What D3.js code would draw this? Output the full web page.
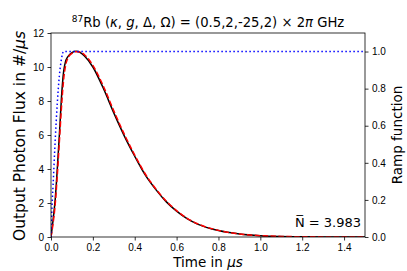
<!DOCTYPE html>
<html>
<head>
<meta charset="utf-8">
<script src="https://cdn.jsdelivr.net/npm/d3@7"></script>
<style>
  body { margin: 0; background: #fff; }
  svg { font-family: "DejaVu Sans", sans-serif; }
  .axis path, .axis line { stroke: #000; stroke-width: 0.8; }
  .axis text { font-size: 10px; fill: #000; }
</style>
</head>
<body>
<div id="chart"></div>
<script>
// time grid (us)
var times = [0, 0.01, 0.02, 0.03, 0.04, 0.05, 0.06, 0.07, 0.08, 0.1, 0.12, 0.14, 0.16, 0.2, 0.25, 0.3,
             0.35, 0.4, 0.45, 0.5, 0.55, 0.6, 0.65, 0.7, 0.8, 0.9, 1.0, 1.1, 1.2, 1.3, 1.4, 1.5];
// simulated output flux (black)
var fluxSim = [0, 1.0, 2.2, 4.0, 6.0, 8.2, 9.7, 10.35, 10.6, 10.85, 10.92, 10.85, 10.65, 10.0, 8.75, 7.3,
               5.95, 4.75, 3.65, 2.8, 2.08, 1.52, 1.08, 0.76, 0.38, 0.18, 0.08, 0.035, 0.015, 0.006, 0.003, 0.001];
// analytic flux (red dashed)
var fluxModel = [0, 0.8, 1.9, 3.6, 5.6, 7.6, 9.2, 10.1, 10.5, 10.8, 10.9, 10.88, 10.72, 10.1, 8.88, 7.42,
                 6.05, 4.82, 3.72, 2.84, 2.12, 1.55, 1.1, 0.78, 0.39, 0.18, 0.08, 0.035, 0.015, 0.006, 0.003, 0.001];
// ramp function (blue dotted)
var rampTimes = [0, 0.005, 0.01, 0.02, 0.03, 0.04, 0.05, 0.06, 1.5];
var rampValues = [0, 0.17, 0.28, 0.52, 0.72, 0.87, 0.96, 1.0, 1.0];

var xTicks = [0, 0.2, 0.4, 0.6, 0.8, 1.0, 1.2, 1.4];
var yTicks = [0, 2, 4, 6, 8, 10, 12];
var rTicks = [0, 0.2, 0.4, 0.6, 0.8, 1.0];

// set the dimensions and margins of the graph
var W = 407, H = 271;
var margin = {top: 33, right: 42, bottom: 34, left: 51},
    width = W - margin.left - margin.right,
    height = H - margin.top - margin.bottom;

var x = d3.scaleLinear().domain([0, 1.5]).range([0, width]);
var y = d3.scaleLinear().domain([0, 12]).range([height, 0]);
var yr = d3.scaleLinear().domain([0, 1.1]).range([height, 0]);

var svg = d3.select("#chart").append("svg")
    .attr("width", W)
    .attr("height", H);

var g = svg.append("g")
    .attr("transform", "translate(" + margin.left + "," + margin.top + ")");

g.append("clipPath").attr("id", "clip")
  .append("rect").attr("width", width).attr("height", height);

var plot = g.append("g").attr("clip-path", "url(#clip)");

var simData = times.map(function(t, i) { return {t: t, v: fluxSim[i]}; });
var modelData = times.map(function(t, i) { return {t: t, v: fluxModel[i]}; });
var rampData = rampTimes.map(function(t, i) { return {t: t, v: rampValues[i]}; });

var fluxLine = d3.line()
    .x(function(d) { return x(d.t); })
    .y(function(d) { return y(d.v); })
    .curve(d3.curveMonotoneX);

var rampLine = d3.line()
    .x(function(d) { return x(d.t); })
    .y(function(d) { return yr(d.v); })
    .curve(d3.curveMonotoneX);

plot.append("path")
    .datum(simData)
    .attr("fill", "none")
    .attr("stroke", "#000")
    .attr("stroke-width", 1.5)
    .attr("d", fluxLine);

plot.append("path")
    .datum(modelData)
    .attr("fill", "none")
    .attr("stroke", "#ff0000")
    .attr("stroke-width", 1.5)
    .attr("stroke-dasharray", "5.5,2.4")
    .attr("d", fluxLine);

plot.append("path")
    .datum(rampData)
    .attr("fill", "none")
    .attr("stroke", "#0000ff")
    .attr("stroke-width", 1.5)
    .attr("stroke-dasharray", "1.5,2.5")
    .attr("d", rampLine);

// Axes
g.append("g")
    .attr("class", "axis")
    .attr("transform", "translate(0," + height + ")")
    .call(d3.axisBottom(x).tickValues(xTicks).tickFormat(d3.format(".1f")).tickSize(3.5).tickPadding(3.5));

g.append("g")
    .attr("class", "axis")
    .call(d3.axisLeft(y).tickValues(yTicks).tickFormat(d3.format("d")).tickSize(3.5).tickPadding(3.5));

g.append("g")
    .attr("class", "axis")
    .attr("transform", "translate(" + width + ",0)")
    .call(d3.axisRight(yr).tickValues(rTicks).tickFormat(d3.format(".1f")).tickSize(3.5).tickPadding(3.5));

g.selectAll(".axis .domain").remove();

// frame
g.append("rect")
    .attr("width", width)
    .attr("height", height)
    .attr("fill", "none")
    .attr("stroke", "#000")
    .attr("stroke-width", 0.8);

// Title
var title = svg.append("text")
    .attr("x", margin.left + width / 2)
    .attr("y", 27)
    .attr("text-anchor", "middle")
    .style("font-size", "13.2px");
title.append("tspan").attr("dy", "-5").style("font-size", "9px").text("87");
title.append("tspan").attr("dy", "5").text("Rb (");
title.append("tspan").style("font-style", "italic").text("κ");
title.append("tspan").text(", ");
title.append("tspan").style("font-style", "italic").text("g");
title.append("tspan").text(", Δ, Ω) = (0.5,2,-25,2) × 2");
title.append("tspan").style("font-style", "italic").text("π");
title.append("tspan").text(" GHz");

// x label
var xl = svg.append("text")
    .attr("x", margin.left + width / 2)
    .attr("y", 267)
    .attr("text-anchor", "middle")
    .style("font-size", "13.5px");
xl.append("tspan").text("Time in ");
xl.append("tspan").style("font-style", "italic").text("μs");

// left y label
var yl = svg.append("text")
    .attr("transform", "translate(25," + (margin.top + height / 2 + 1) + ") rotate(-90)")
    .attr("text-anchor", "middle")
    .style("font-size", "15.5px");
yl.append("tspan").text("Output Photon Flux in #/");
yl.append("tspan").style("font-style", "italic").text("μs");

// right y label
svg.append("text")
    .attr("transform", "translate(402," + (margin.top + height / 2) + ") rotate(-90)")
    .attr("text-anchor", "middle")
    .style("font-size", "13.5px")
    .text("Ramp function");

// mean photon number
svg.append("text")
    .attr("x", margin.left + width - 4)
    .attr("y", 227)
    .attr("text-anchor", "end")
    .style("font-size", "13px")
    .text("N\u0305 = 3.983");
</script>
</body>
</html>
